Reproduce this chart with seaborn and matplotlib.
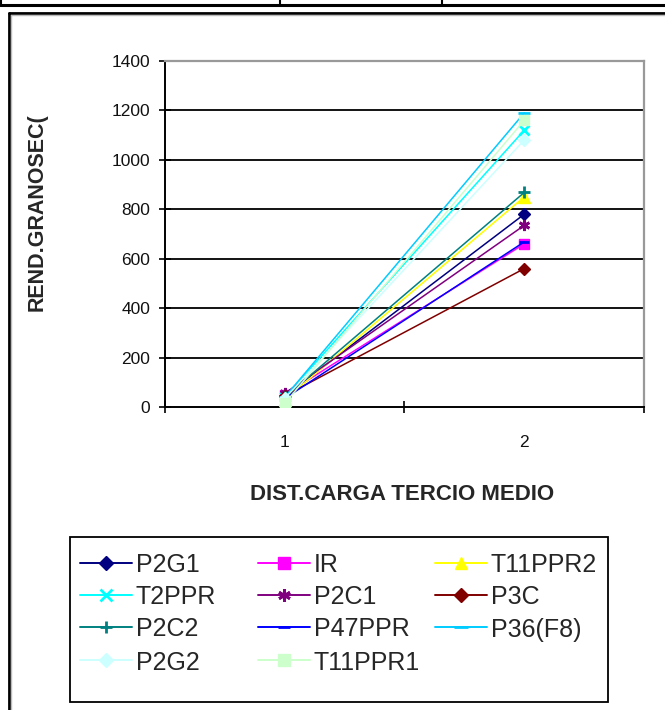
import numpy as np
import pandas as pd
import seaborn as sns
import matplotlib
matplotlib.use("Agg")
import matplotlib.pyplot as plt
from matplotlib.lines import Line2D
from matplotlib.patches import Rectangle

# Yield per treatment at the two load-distribution levels
dist = [1, 2]
series = ["P2G1", "IR", "T11PPR2", "T2PPR", "P2C1", "P3C",
          "P2C2", "P47PPR", "P36(F8)", "P2G2", "T11PPR1"]
p2g1 = [45, 780]
ir = [50, 660]
t11ppr2 = [30, 850]
t2ppr = [40, 1120]
p2c1 = [55, 735]
p3c = [45, 560]
p2c2 = [40, 868]
p47ppr = [35, 668]
p36f8 = [40, 1190]
p2g2 = [35, 1080]
t11ppr1 = [15, 1160]
values = [p2g1, ir, t11ppr2, t2ppr, p2c1, p3c, p2c2, p47ppr, p36f8, p2g2, t11ppr1]
y_ticks = [0, 200, 400, 600, 800, 1000, 1200, 1400]

colors = {"P2G1": "#000080", "IR": "#FF00FF", "T11PPR2": "#FFFF00",
          "T2PPR": "#00FFFF", "P2C1": "#800080", "P3C": "#800000",
          "P2C2": "#008080", "P47PPR": "#0000FF", "P36(F8)": "#00CCFF",
          "P2G2": "#CCFFFF", "T11PPR1": "#CCFFCC"}
markers = {"P2G1": "D", "IR": "s", "T11PPR2": "^", "T2PPR": "x",
           "P2C1": (6, 2, 0), "P3C": "D", "P2C2": "+", "P47PPR": "_",
           "P36(F8)": "_", "P2G2": "D", "T11PPR1": "s"}
msizes = {"P2G1": 6, "IR": 7, "T11PPR2": 8, "T2PPR": 7, "P2C1": 8,
          "P3C": 6, "P2C2": 8, "P47PPR": 7, "P36(F8)": 9, "P2G2": 6,
          "T11PPR1": 7}


def edge_width(name):
    m = markers[name]
    return 2.0 if (m in ("_", "+", "x") or isinstance(m, tuple)) else 1.0


rows = []
for name, vals in zip(series, values):
    for d, v in zip(dist, vals):
        rows.append({"dist": d, "rend": v, "serie": name})
df = pd.DataFrame(rows)

sns.set_style("white")
plt.rcParams["font.family"] = ["Liberation Sans", "DejaVu Sans"]

fig = plt.figure(figsize=(6.65, 7.1), dpi=100)
W, H = 665, 710
ax = fig.add_axes([165 / W, 1 - 407 / H, (644 - 165) / W, (407 - 61) / H])

for y in y_ticks[1:-1]:
    ax.axhline(y, color="black", lw=1.3, zorder=1)

for name in series:
    sub = df[df["serie"] == name]
    sns.lineplot(data=sub, x="dist", y="rend", ax=ax, color=colors[name],
                 marker=markers[name], markersize=msizes[name],
                 markeredgecolor=colors[name], markeredgewidth=edge_width(name),
                 lw=1.1, label=name, zorder=3, legend=False)

ax.set_xlim(0.5, 2.5)
ax.set_ylim(0, 1400)
ax.set_yticks(y_ticks)
ax.set_yticklabels([str(v) for v in y_ticks], fontsize=12.5, color="#111111")
ax.tick_params(axis="y", direction="inout", length=9, width=1.2, pad=6,
               left=True, color="black")
ax.set_xticks([0.5, 1.5, 2.5])
ax.set_xticklabels(["", "", ""])
ax.tick_params(axis="x", which="major", direction="inout", length=9,
               width=1.2, bottom=True, color="black")
ax.set_xticks([1, 2], minor=True)
ax.set_xticklabels(["1", "2"], minor=True, fontsize=12.5, color="#111111")
ax.tick_params(axis="x", which="minor", length=0, pad=20)

for s in ["left", "bottom"]:
    ax.spines[s].set_color("black")
    ax.spines[s].set_linewidth(1.4)
for s in ["top", "right"]:
    ax.spines[s].set_color("#999999")
    ax.spines[s].set_linewidth(1.6)

ax.set_xlabel("")
ax.set_ylabel("")
fig.text(402 / W, 1 - 495 / H, "DIST.CARGA TERCIO MEDIO", ha="center",
         va="center", fontsize=16, fontweight="bold")
fig.text(37 / W, 1 - 212 / H, "REND.GRANOSEC(", ha="center", va="center",
         rotation=90, fontsize=15.5, fontweight="bold")

# legend box: three equal-width columns, filled row by row
fig.add_artist(Rectangle((70 / W, 1 - 702 / H), (608 - 70) / W,
                         (702 - 537) / H, transform=fig.transFigure,
                         facecolor="white", edgecolor="black", lw=1.3,
                         zorder=5))
col_x = [80, 258, 435]
row_y = [563, 595, 627, 660]
for i, name in enumerate(series):
    r, c = divmod(i, 3)
    x0 = col_x[c]
    yy = 1 - row_y[r] / H
    fig.add_artist(Line2D([x0 / W, (x0 + 52) / W], [yy, yy],
                          color=colors[name], lw=1.4,
                          transform=fig.transFigure, zorder=6))
    fig.add_artist(Line2D([(x0 + 26) / W], [yy], color=colors[name],
                          marker=markers[name], markersize=msizes[name] + 1,
                          markeredgecolor=colors[name],
                          markeredgewidth=edge_width(name), lw=0,
                          transform=fig.transFigure, zorder=7))
    fig.text((x0 + 56) / W, yy, name, ha="left", va="center_baseline",
             fontsize=18, zorder=8)

# outer chart frame and table rules above it
fig.add_artist(Line2D([9 / W, 9 / W], [0, 1 - 13 / H], color="black",
                      lw=2, transform=fig.transFigure))
fig.add_artist(Line2D([9 / W, 1], [1 - 13 / H, 1 - 13 / H], color="black",
                      lw=2, transform=fig.transFigure))
fig.add_artist(Line2D([11 / W, 11 / W], [0, 1 - 15 / H], color="#bbbbbb",
                      lw=1, transform=fig.transFigure))
fig.add_artist(Line2D([11 / W, 1], [1 - 15 / H, 1 - 15 / H], color="#bbbbbb",
                      lw=1, transform=fig.transFigure))
fig.add_artist(Line2D([0, 1], [1 - 4.5 / H, 1 - 4.5 / H], color="black",
                      lw=2.2, transform=fig.transFigure))
for xv in [1, 280, 442]:
    fig.add_artist(Line2D([xv / W, xv / W], [1 - 5 / H, 1], color="black",
                          lw=1.5, transform=fig.transFigure))

fig.savefig("out.png", dpi=100)
